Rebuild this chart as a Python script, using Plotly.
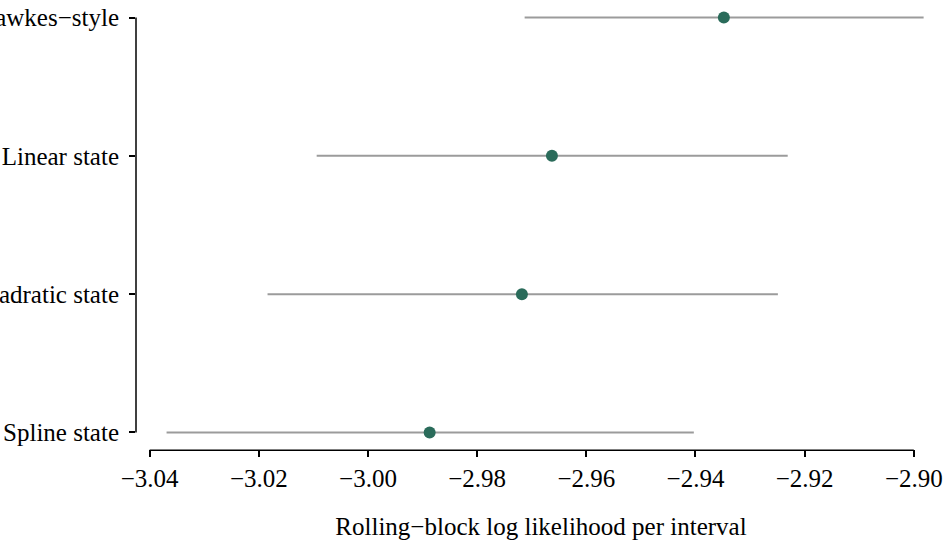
import plotly.graph_objects as go

models = ["Spline state", "Quadratic state", "Linear state", "Hawkes\u2212style"]
estimate = [-2.9887, -2.9718, -2.9663, -2.9348]
lower = [-3.0369, -3.0184, -3.0094, -2.9713]
upper = [-2.9403, -2.9249, -2.9231, -2.8982]
xticks = [-3.04, -3.02, -3.00, -2.98, -2.96, -2.94, -2.92, -2.90]
xlabel = "Rolling\u2212block log likelihood per interval"

ypos = list(range(1, len(models) + 1))
FONT = "Liberation Serif, Times New Roman, serif"
FS = 25
fig = go.Figure()

for y, lo, hi in zip(ypos, lower, upper):
    fig.add_trace(go.Scatter(x=[lo, hi], y=[y, y], mode="lines",
                             line=dict(color="#9b9b9b", width=2),
                             hoverinfo="skip", showlegend=False))

fig.add_trace(go.Scatter(x=estimate, y=ypos, mode="markers",
                         marker=dict(color="#2a6b5a", size=12),
                         showlegend=False))

# R-style axis lines spanning tick range only
fig.add_shape(type="line", xref="x", yref="paper",
              x0=min(xticks), x1=max(xticks), y0=-0.003, y1=-0.003,
              line=dict(color="black", width=1.5))
fig.add_shape(type="line", xref="paper", yref="y",
              x0=0, x1=0, y0=min(ypos), y1=max(ypos),
              line=dict(color="black", width=1.5))

fig.update_layout(
    width=946, height=545,
    margin=dict(l=136, r=0, t=1, b=96, autoexpand=False),
    paper_bgcolor="white", plot_bgcolor="white",
    font=dict(family=FONT, size=FS, color="black"),
    xaxis=dict(range=[-3.0425, -2.8941], tickvals=xticks,
               ticktext=[f"{v:.2f}".replace("-", "\u2212") for v in xticks],
               ticks="outside", ticklen=7, tickwidth=1.5, tickcolor="black",
               showgrid=False, zeroline=False, showline=False,
               tickfont=dict(family=FONT, size=FS),
               title=dict(text=xlabel, font=dict(family=FONT, size=FS), standoff=26),
               automargin=False),
    yaxis=dict(range=[0.88, 4.12], tickvals=ypos, ticktext=models,
               ticks="outside", ticklen=6, tickwidth=1.5, tickcolor="black",
               ticklabelstandoff=5,
               showgrid=False, zeroline=False, showline=False,
               tickfont=dict(family=FONT, size=FS),
               automargin=False),
)

fig.write_html("out.html")
